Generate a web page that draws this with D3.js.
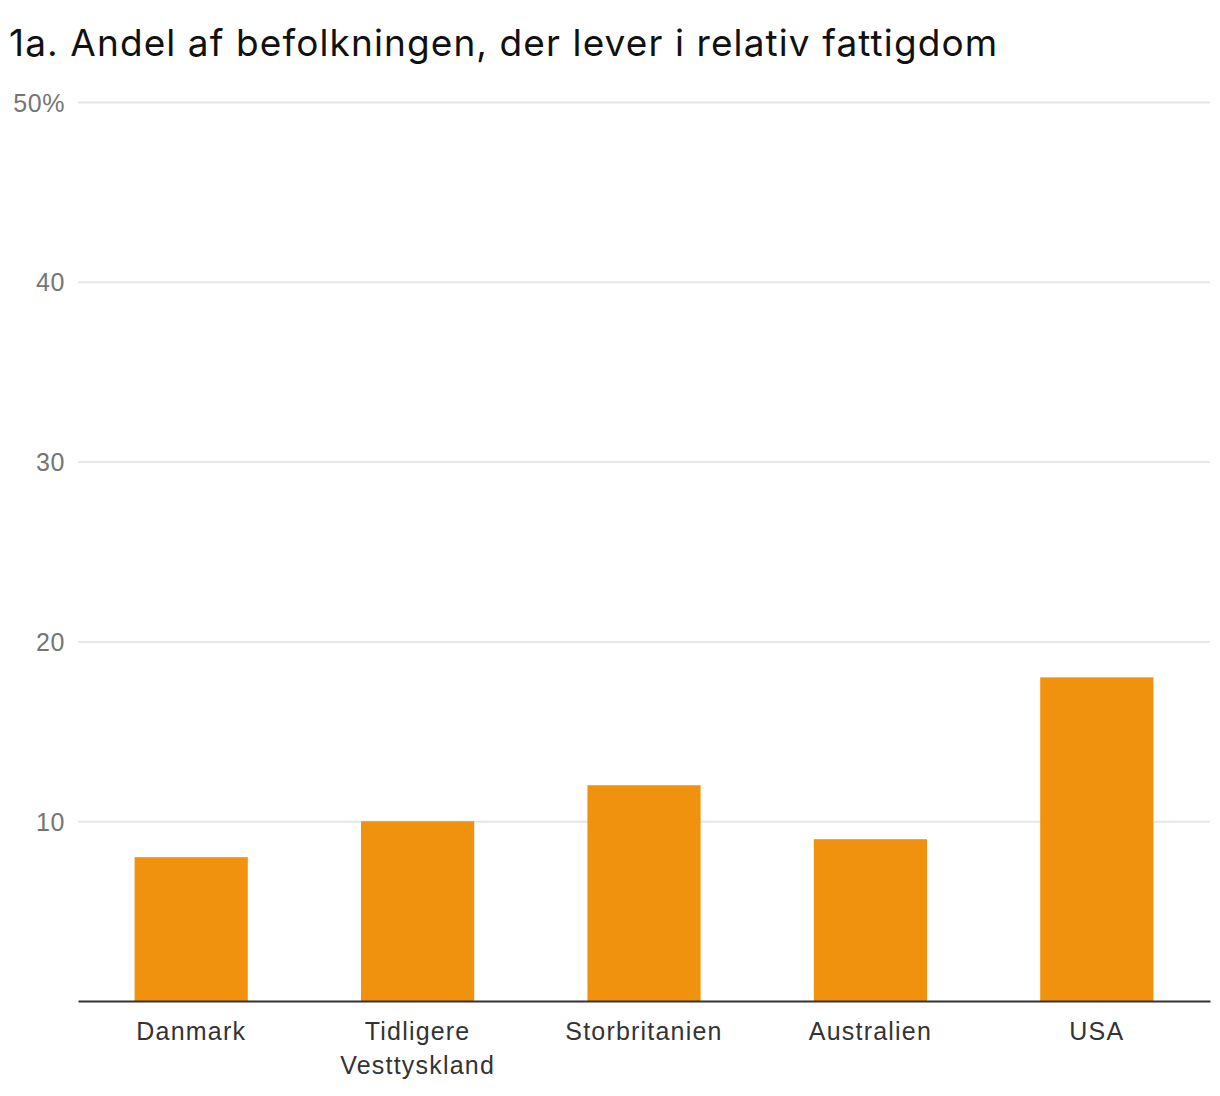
<!DOCTYPE html>
<html>
<head>
<meta charset="utf-8">
<script src="https://cdn.jsdelivr.net/npm/d3@7"></script>
<style>
    body { margin: 0; background: #fff; }
    svg { font-family: Inter, "Noto Sans", sans-serif; }
</style>
</head>
<body>
<div id="chart"></div>
<script>

// Data

const countries = ["Danmark", "Tidligere\nVesttyskland", "Storbritanien", "Australien", "USA"];
const shares = [8, 10, 12, 9, 18];
const yTicks = [10, 20, 30, 40, 50];
const title = "1a. Andel af befolkningen, der lever i relativ fattigdom";

// Configure

const dimensions = { width: 1220, height: 1096 };

const margin = { top: 102, bottom: 95, left: 78, right: 10 };

const design = {
    color: "#f0920e",
    grid: "#e6e6e6",
    axis: "#333333",
    tickText: "#757575",
    labelText: "#333333",
};

// Create graph

const graph = d3.select("#chart").append("svg")
    .attr("width", dimensions.width)
    .attr("height", dimensions.height);

graph.append("text")
    .attr("x", 9)
    .attr("y", 56)
    .attr("font-size", 37)
    .attr("letter-spacing", 1.1)
    .attr("fill", "#111")
    .text(title);

// Create scales

const xScale = d3.scaleBand()
    .domain(countries)
    .range([margin.left, dimensions.width - margin.right])
    .paddingInner(0.5)
    .paddingOuter(0.25);

const yScale = d3.scaleLinear()
    .domain([0, 50])
    .range([dimensions.height - margin.bottom, margin.top]);

// Add grid + y labels

const yAxis = d3.axisLeft(yScale)
    .tickValues(yTicks)
    .tickSize(-(dimensions.width - margin.left - margin.right))
    .tickFormat(d => d === 50 ? d + "%" : d);

const yG = graph.append("g")
    .attr("transform", "translate(" + margin.left + ",0)")
    .call(yAxis);

yG.select(".domain").remove();
yG.selectAll(".tick line")
    .attr("stroke", design.grid)
    .attr("stroke-width", 2);
yG.selectAll(".tick text")
    .attr("x", -13)
    .attr("dy", "0.36em")
    .attr("font-size", 25)
    .attr("letter-spacing", 0.6)
    .attr("fill", design.tickText);

// Add bars

graph.selectAll("rect.bar")
    .data(shares)
    .enter()
    .append("rect")
    .attr("class", "bar")
    .attr("fill", design.color)
    .attr("x", (d, i) => xScale(countries[i]))
    .attr("width", xScale.bandwidth())
    .attr("y", d => yScale(d))
    .attr("height", d => yScale(0) - yScale(d));

// Add x-axis

const xAxis = d3.axisBottom(xScale)
    .tickSize(0)
    .tickFormat("");

const xG = graph.append("g")
    .attr("transform", "translate(0, " + yScale(0) + ")")
    .call(xAxis);

xG.select(".domain")
    .attr("stroke", design.axis)
    .attr("stroke-width", 2);

xG.selectAll(".tick").each(function(d) {
    const lines = d.split("\n");
    const t = d3.select(this).append("text")
        .attr("text-anchor", "middle")
        .attr("font-size", 25)
        .attr("letter-spacing", 1.2)
        .attr("fill", design.labelText);
    lines.forEach((line, i) => {
        t.append("tspan")
            .attr("x", 0)
            .attr("y", 39 + i * 34)
            .text(line);
    });
});

</script>
</body>
</html>
